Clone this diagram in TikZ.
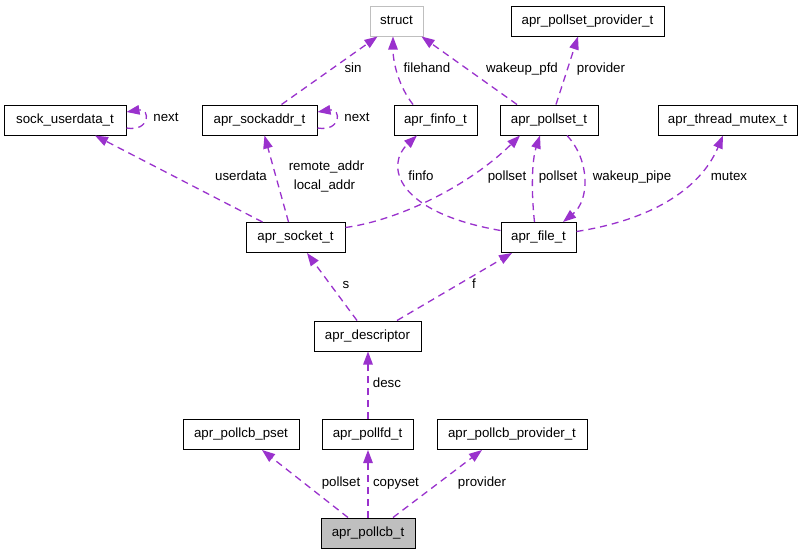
\documentclass[tikz,border=0pt]{standalone}
\usepackage{fontspec}
\setmainfont{Liberation Sans}
\usetikzlibrary{arrows.meta,calc}
\definecolor{edgecol}{HTML}{9A32CD}
\definecolor{greyfill}{HTML}{BFBFBF}
\definecolor{greyline}{HTML}{BFBFBF}
\tikzset{
  box/.style={draw=black, line width=1pt, minimum height=30pt, inner sep=0pt,
    font=\fontsize{13.3}{16}\selectfont, text height=9.5pt, text depth=2.8pt, anchor=center},
  edge/.style={draw=edgecol, line width=1.3pt, dash pattern=on 7pt off 5pt,
    -{Triangle[length=13pt,width=9.5pt,fill=edgecol]}},
  lab/.style={font=\fontsize{13.3}{16}\selectfont, inner sep=0pt, text height=9.5pt, text depth=2.8pt, anchor=center}
}
\begin{document}
\begin{tikzpicture}[x=1pt,y=-1pt]
\useasboundingbox[fill=white] (0,0) rectangle (803,555);
% nodes
\node[box, draw=greyline, minimum width=53pt] (st) at (396.5,21) {struct};
\node[box, minimum width=153pt] (pp) at (587.5,21) {apr\_pollset\_provider\_t};
\node[box, minimum width=122pt] (su) at (65,120) {sock\_userdata\_t};
\node[box, minimum width=115pt] (sa) at (259.5,120) {apr\_sockaddr\_t};
\node[box, minimum width=83pt] (fi) at (435.5,120) {apr\_finfo\_t};
\node[box, minimum width=98pt] (ps) at (549,120) {apr\_pollset\_t};
\node[box, minimum width=139pt] (mx) at (727.5,120) {apr\_thread\_mutex\_t};
\node[box, minimum width=99pt] (so) at (295.5,237.5) {apr\_socket\_t};
\node[box, minimum width=75pt] (fl) at (538.5,237.5) {apr\_file\_t};
\node[box, minimum width=107pt] (de) at (367.5,336) {apr\_descriptor};
\node[box, minimum width=116pt] (pb) at (241,434.5) {apr\_pollcb\_pset};
\node[box, minimum width=91pt] (pf) at (367.5,434.5) {apr\_pollfd\_t};
\node[box, minimum width=150pt] (pv) at (512,434.5) {apr\_pollcb\_provider\_t};
\node[box, fill=greyfill, minimum width=94pt] (cb) at (368,533) {apr\_pollcb\_t};
% edges
\draw[edge] ([xshift=22pt]sa.north) -- ([xshift=-19pt]st.south);
\draw[edge] ([xshift=-22.5pt]fi.north) .. controls (400,88) and (393,65) .. ([xshift=-3.5pt]st.south);
\draw[edge] ([xshift=-32pt]ps.north) -- ([xshift=25pt]st.south);
\draw[edge] ([xshift=7pt]ps.north) -- ([xshift=-9.5pt]pp.south);
\draw[edge] ([yshift=-8pt]su.east) .. controls ($(su.east)+(24,12)$) and ($(su.east)+(24,-12)$) .. ([yshift=8pt]su.east);
\draw[edge] ([yshift=-8pt]sa.east) .. controls ($(sa.east)+(24,12)$) and ($(sa.east)+(24,-12)$) .. ([yshift=8pt]sa.east);
\draw[edge] ([xshift=-33pt]so.north) -- ([xshift=30pt]su.south);
\draw[edge] ([xshift=-7pt]so.north) -- ([xshift=5pt]sa.south);
\draw[edge] ([yshift=10pt]so.east) .. controls (400,220) and (470,185) .. ([xshift=-29pt]ps.south);
\draw[edge] ([yshift=7pt]fl.west) .. controls (395,212) and (385,165) .. ([xshift=-18.5pt]fi.south);
\draw[edge] ([xshift=-4pt]fl.north) .. controls (531,190) and (532,160) .. ([xshift=-9pt]ps.south);
\draw[edge] ([xshift=18pt]ps.south) .. controls (590,160) and (590,200) .. ([xshift=24.5pt]fl.north);
\draw[edge] ([yshift=6pt]fl.east) .. controls (650,220) and (700,190) .. ([xshift=-4.5pt]mx.south);
\draw[edge] ([xshift=-10.5pt]de.north) -- ([xshift=11.5pt]so.south);
\draw[edge] ([xshift=29.5pt]de.north) -- ([xshift=-26.5pt]fl.south);
\draw[edge] ([xshift=0.5pt]pf.north) -- ([xshift=0.5pt]de.south);
\draw[edge] ([xshift=-20pt]cb.north) -- ([xshift=21pt]pb.south);
\draw[edge] (cb.north) -- ([xshift=0.5pt]pf.south);
\draw[edge] ([xshift=25pt]cb.north) -- ([xshift=-30pt]pv.south);
% labels
\node[lab] (l1) at (353,69) {sin};
\node[lab] (l2) at (427,69) {filehand};
\node[lab] (l3) at (522,69) {wakeup\_pfd};
\node[lab] (l4) at (601,69) {provider};
\node[lab] (l5) at (166,118) {next};
\node[lab] (l6) at (357,118) {next};
\node[lab] (l7) at (241,177) {userdata};
\node[lab] (l8a) at (326.5,167.5) {remote\_addr};
\node[lab] (l8b) at (324.5,186.5) {local\_addr};
\node[lab] (l9) at (507,177) {pollset};
\node[lab] (l10) at (421,177) {finfo};
\node[lab] (l11) at (558,177) {pollset};
\node[lab] (l12) at (632,177) {wakeup\_pipe};
\node[lab] (l13) at (729,177) {mutex};
\node[lab] (l14) at (346,285) {s};
\node[lab] (l15) at (474,285) {f};
\node[lab] (l16) at (387,384) {desc};
\node[lab] (l17) at (341,483) {pollset};
\node[lab] (l18) at (396,483) {copyset};
\node[lab] (l19) at (482,483) {provider};
\end{tikzpicture}
\end{document}
